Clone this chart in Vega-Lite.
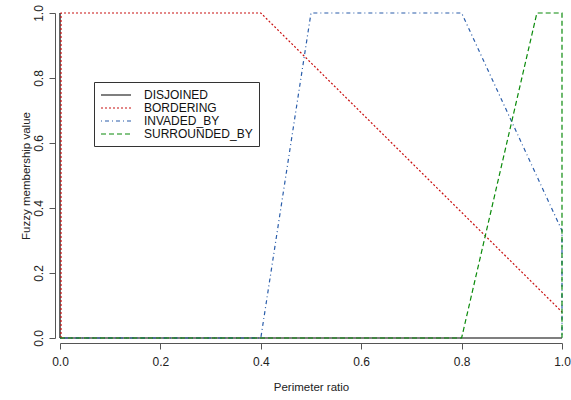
{
  "$schema": "https://vega.github.io/schema/vega-lite/v6.json",
  "width": 502,
  "height": 325,
  "autosize": "none",
  "padding": {"left": 60, "top": 13, "right": 9, "bottom": 62},
  "background": "white",
  "config": {
    "view": {"stroke": null},
    "font": "Liberation Sans",
    "axis": {"grid": false, "labelFont": "Liberation Sans", "titleFont": "Liberation Sans", "titleFontWeight": "normal", "labelColor": "#222", "titleColor": "#222", "domainColor": "#555", "tickColor": "#555", "labelFontSize": 12, "titleFontSize": 11.5}
  },
  "data": {
    "values": [
      {"series": "DISJOINED", "i": 0, "x": 0, "y": 1},
      {"series": "DISJOINED", "i": 1, "x": 0, "y": 0},
      {"series": "DISJOINED", "i": 2, "x": 1, "y": 0},
      {"series": "BORDERING", "i": 0, "x": 0.002, "y": 0},
      {"series": "BORDERING", "i": 1, "x": 0.002, "y": 1},
      {"series": "BORDERING", "i": 2, "x": 0.4, "y": 1},
      {"series": "BORDERING", "i": 3, "x": 1, "y": 0.08},
      {"series": "INVADED_BY", "i": 0, "x": 0, "y": 0},
      {"series": "INVADED_BY", "i": 1, "x": 0.4, "y": 0},
      {"series": "INVADED_BY", "i": 2, "x": 0.5, "y": 1},
      {"series": "INVADED_BY", "i": 3, "x": 0.8, "y": 1},
      {"series": "INVADED_BY", "i": 4, "x": 1, "y": 0.33},
      {"series": "INVADED_BY", "i": 5, "x": 1, "y": 0},
      {"series": "SURROUNDED_BY", "i": 0, "x": 0, "y": 0},
      {"series": "SURROUNDED_BY", "i": 1, "x": 0.8, "y": 0},
      {"series": "SURROUNDED_BY", "i": 2, "x": 0.95, "y": 1},
      {"series": "SURROUNDED_BY", "i": 3, "x": 1, "y": 1},
      {"series": "SURROUNDED_BY", "i": 4, "x": 1, "y": 0}
    ]
  },
  "mark": {"type": "line", "strokeWidth": 1.2},
  "encoding": {
    "x": {
      "field": "x", "type": "quantitative",
      "scale": {"domain": [0, 1], "nice": false, "zero": false},
      "axis": {"title": "Perimeter ratio", "values": [0, 0.2, 0.4, 0.6, 0.8, 1], "format": ".1f", "offset": 5, "tickSize": 6, "labelPadding": 7, "titlePadding": 14, "labelFlush": false}
    },
    "y": {
      "field": "y", "type": "quantitative",
      "scale": {"domain": [0, 1], "nice": false, "zero": false},
      "axis": {"title": "Fuzzy membership value", "values": [0, 0.2, 0.4, 0.6, 0.8, 1], "format": ".1f", "offset": 5, "tickSize": 6, "labelAngle": -90, "labelAlign": "center", "labelBaseline": "bottom", "labelPadding": 4, "titlePadding": 1, "labelFlush": false}
    },
    "order": {"field": "i", "type": "quantitative"},
    "color": {
      "field": "series", "type": "nominal",
      "scale": {"domain": ["DISJOINED", "BORDERING", "INVADED_BY", "SURROUNDED_BY"], "range": ["#000000", "#C81010", "#2A5DAA", "#0A8A0A"]},
      "legend": {"title": null, "orient": "none", "legendX": 34, "legendY": 69, "strokeColor": "#333", "padding": 6, "symbolType": "M-1,0H4", "symbolSize": 144, "symbolStrokeWidth": 1.2, "labelFontSize": 12, "labelFont": "Liberation Sans", "labelColor": "#111", "labelOffset": 30, "rowPadding": 0, "cornerRadius": 0}
    },
    "strokeDash": {
      "field": "series", "type": "nominal",
      "scale": {"domain": ["DISJOINED", "BORDERING", "INVADED_BY", "SURROUNDED_BY"], "range": [[1, 0], [2, 2], [1, 3, 4, 3], [5, 3]]},
      "legend": null
    }
  }
}
